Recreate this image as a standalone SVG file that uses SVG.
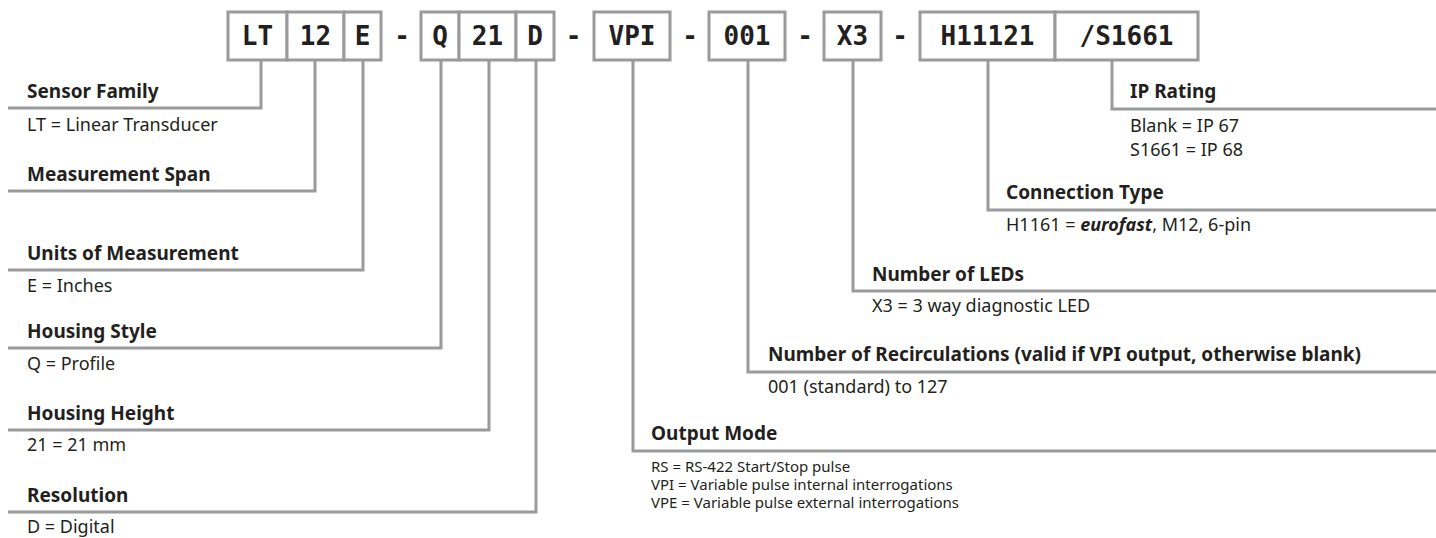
<svg xmlns="http://www.w3.org/2000/svg" width="1436" height="538" viewBox="0 0 1436 538">
<style>
.box{fill:#fff;stroke:#999a9c;stroke-width:3}
.code{font-family:"DejaVu Sans Mono",monospace;font-weight:bold;font-size:26px;fill:#231f20;text-anchor:middle}
.dash{font-family:"DejaVu Sans Mono",monospace;font-weight:bold;font-size:26px;fill:#231f20;text-anchor:middle}
.conn{fill:none;stroke:#999a9c;stroke-width:3;stroke-linejoin:miter}
.hd{font-family:"Noto Sans","Liberation Sans",sans-serif;font-weight:bold;font-size:19px;fill:#231f20}
.ds{font-family:"Noto Sans","Liberation Sans",sans-serif;font-size:18px;fill:#231f20}
.sm{font-family:"Noto Sans","Liberation Sans",sans-serif;font-size:15px;fill:#231f20}
</style>
<rect width="1436" height="538" fill="#fff"/>
<g id="connectors">
<path class="conn" d="M261 60V108H8"/>
<path class="conn" d="M315 60V191H8"/>
<path class="conn" d="M363 60V270H8"/>
<path class="conn" d="M441 60V348H8"/>
<path class="conn" d="M489 60V430H8"/>
<path class="conn" d="M536 60V512H8"/>
<path class="conn" d="M1112 60V109H1436"/>
<path class="conn" d="M988 60V210H1436"/>
<path class="conn" d="M853 60V291H1436"/>
<path class="conn" d="M748 60V372H1436"/>
<path class="conn" d="M633 60V451H1436"/>
</g>
<g id="code-LT"><rect class="box" x="228" y="12" width="59" height="48"/><text class="code" x="257.5" y="45">LT</text></g>
<g id="code-12"><rect class="box" x="287" y="12" width="57" height="48"/><text class="code" x="315.5" y="45">12</text></g>
<g id="code-E"><rect class="box" x="344" y="12" width="37" height="48"/><text class="code" x="362.5" y="45">E</text></g>
<g id="sep1"><text class="dash" x="402" y="45">-</text></g>
<g id="code-Q"><rect class="box" x="421" y="12" width="38" height="48"/><text class="code" x="440" y="45">Q</text></g>
<g id="code-21"><rect class="box" x="459" y="12" width="57" height="48"/><text class="code" x="487.5" y="45">21</text></g>
<g id="code-D"><rect class="box" x="516" y="12" width="38" height="48"/><text class="code" x="535" y="45">D</text></g>
<g id="sep2"><text class="dash" x="573.5" y="45">-</text></g>
<g id="code-VPI"><rect class="box" x="594" y="12" width="76" height="48"/><text class="code" x="632" y="45">VPI</text></g>
<g id="sep3"><text class="dash" x="690" y="45">-</text></g>
<g id="code-001"><rect class="box" x="709" y="12" width="76" height="48"/><text class="code" x="747" y="45">001</text></g>
<g id="sep4"><text class="dash" x="805" y="45">-</text></g>
<g id="code-X3"><rect class="box" x="824" y="12" width="57" height="48"/><text class="code" x="852.5" y="45">X3</text></g>
<g id="sep5"><text class="dash" x="900" y="45">-</text></g>
<g id="code-H11121"><rect class="box" x="920" y="12" width="135" height="48"/><text class="code" x="987.5" y="45">H11121</text></g>
<g id="code-S1661"><rect class="box" x="1055" y="12" width="143" height="48"/><text class="code" x="1126.5" y="45">/S1661</text></g>

<g id="sensor-family"><text class="hd" x="27" y="97.5">Sensor Family</text><text class="ds" x="27" y="131">LT = Linear Transducer</text></g>
<g id="measurement-span"><text class="hd" x="27" y="181">Measurement Span</text></g>
<g id="units"><text class="hd" x="27" y="260">Units of Measurement</text><text class="ds" x="27" y="292">E = Inches</text></g>
<g id="housing-style"><text class="hd" x="27" y="338">Housing Style</text><text class="ds" x="27" y="370">Q = Profile</text></g>
<g id="housing-height"><text class="hd" x="27" y="419.5">Housing Height</text><text class="ds" x="27" y="451">21 = 21 mm</text></g>
<g id="resolution"><text class="hd" x="27" y="501.5">Resolution</text><text class="ds" x="27" y="533">D = Digital</text></g>

<g id="ip-rating"><text class="hd" x="1130" y="97.5">IP Rating</text><text class="ds" x="1130" y="132">Blank = IP 67</text><text class="ds" x="1130" y="156">S1661 = IP 68</text></g>
<g id="connection-type"><text class="hd" x="1006" y="199">Connection Type</text><text class="ds" x="1006" y="231">H1161 = <tspan font-weight="bold" font-style="italic">eurofast</tspan>, M12, 6-pin</text></g>
<g id="number-of-leds"><text class="hd" x="872" y="280.5">Number of LEDs</text><text class="ds" x="872" y="312">X3 = 3 way diagnostic LED</text></g>
<g id="recirculations"><text class="hd" x="768" y="361">Number of Recirculations (valid if VPI output, otherwise blank)</text><text class="ds" x="768" y="393">001 (standard) to 127</text></g>
<g id="output-mode"><text class="hd" x="651" y="440">Output Mode</text><text class="sm" x="651" y="472">RS = RS-422 Start/Stop pulse</text><text class="sm" x="651" y="490">VPI = Variable pulse internal interrogations</text><text class="sm" x="651" y="508">VPE = Variable pulse external interrogations</text></g>
</svg>
